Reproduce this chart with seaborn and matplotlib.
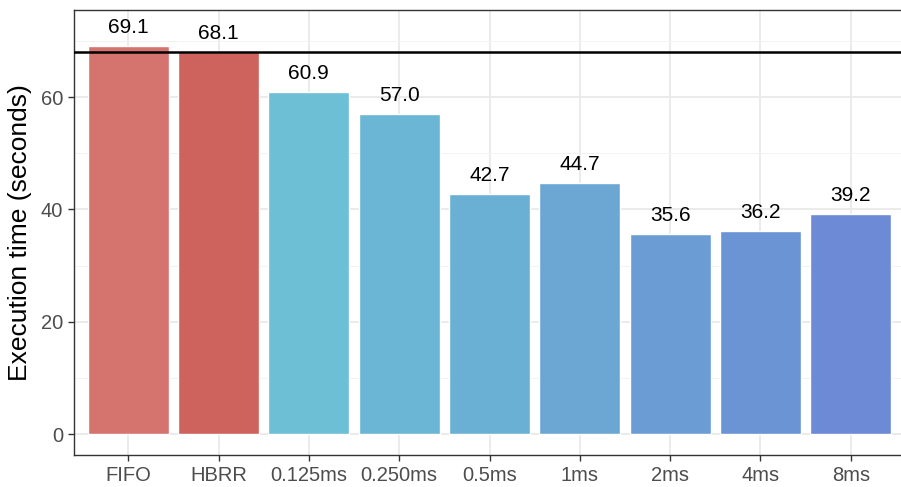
import pandas as pd
import matplotlib.pyplot as plt
import seaborn as sns
from matplotlib.ticker import MultipleLocator

policies = ['FIFO', 'HBRR', '0.125ms', '0.250ms', '0.5ms', '1ms', '2ms', '4ms', '8ms']
exec_time = [69.1, 68.1, 60.9, 57.0, 42.7, 44.7, 35.6, 36.2, 39.2]
bar_colors = ['#D5736E', '#CE625D', '#6DBFD6', '#6BB6D4', '#6AB0D5', '#6CA7D4',
              '#6B9DD4', '#6B94D5', '#6C8AD6']
baseline = 68.1

df = pd.DataFrame({'policy': policies, 'time': exec_time})

sns.set_theme(style='whitegrid')
plt.rcParams['font.family'] = ['Liberation Sans', 'DejaVu Sans']

fig = plt.figure(figsize=(9.01, 4.87), dpi=100)
ax = fig.add_axes([74 / 901, 1 - 455 / 487, (905 - 74) / 901, (455 - 10) / 487])

sns.barplot(data=df, x='policy', y='time', hue='policy', palette=bar_colors,
            width=0.9, saturation=1, legend=False, ax=ax)

ax.axhline(baseline, color='black', lw=1.8, zorder=3)

# value labels above the bars
for i, v in enumerate(exec_time):
    ax.text(i, v + 1.6, f'{v:.1f}', ha='center', va='bottom', fontsize=15, color='black')

ax.set_xlim(-0.6, 8.6)
ax.set_ylim(-3.7, 75.5)
ax.yaxis.set_major_locator(MultipleLocator(20))
ax.yaxis.set_minor_locator(MultipleLocator(10))
ax.grid(which='major', color='#EBEBEB', lw=1.4)
ax.grid(which='minor', axis='y', color='#F2F2F2', lw=0.7)
ax.set_axisbelow(True)

for s in ax.spines.values():
    s.set_color('#333333')
    s.set_linewidth(1.0)

ax.tick_params(axis='both', which='major', length=4, width=1, color='#333333',
               labelsize=14.5, labelcolor='#4D4D4D', left=True, bottom=True, pad=4)
ax.tick_params(axis='y', which='minor', length=0)
ax.set_xlabel('')
ax.set_ylabel('Execution time (seconds)', fontsize=19, color='black', labelpad=6)

fig.savefig('out.png', dpi=100)
